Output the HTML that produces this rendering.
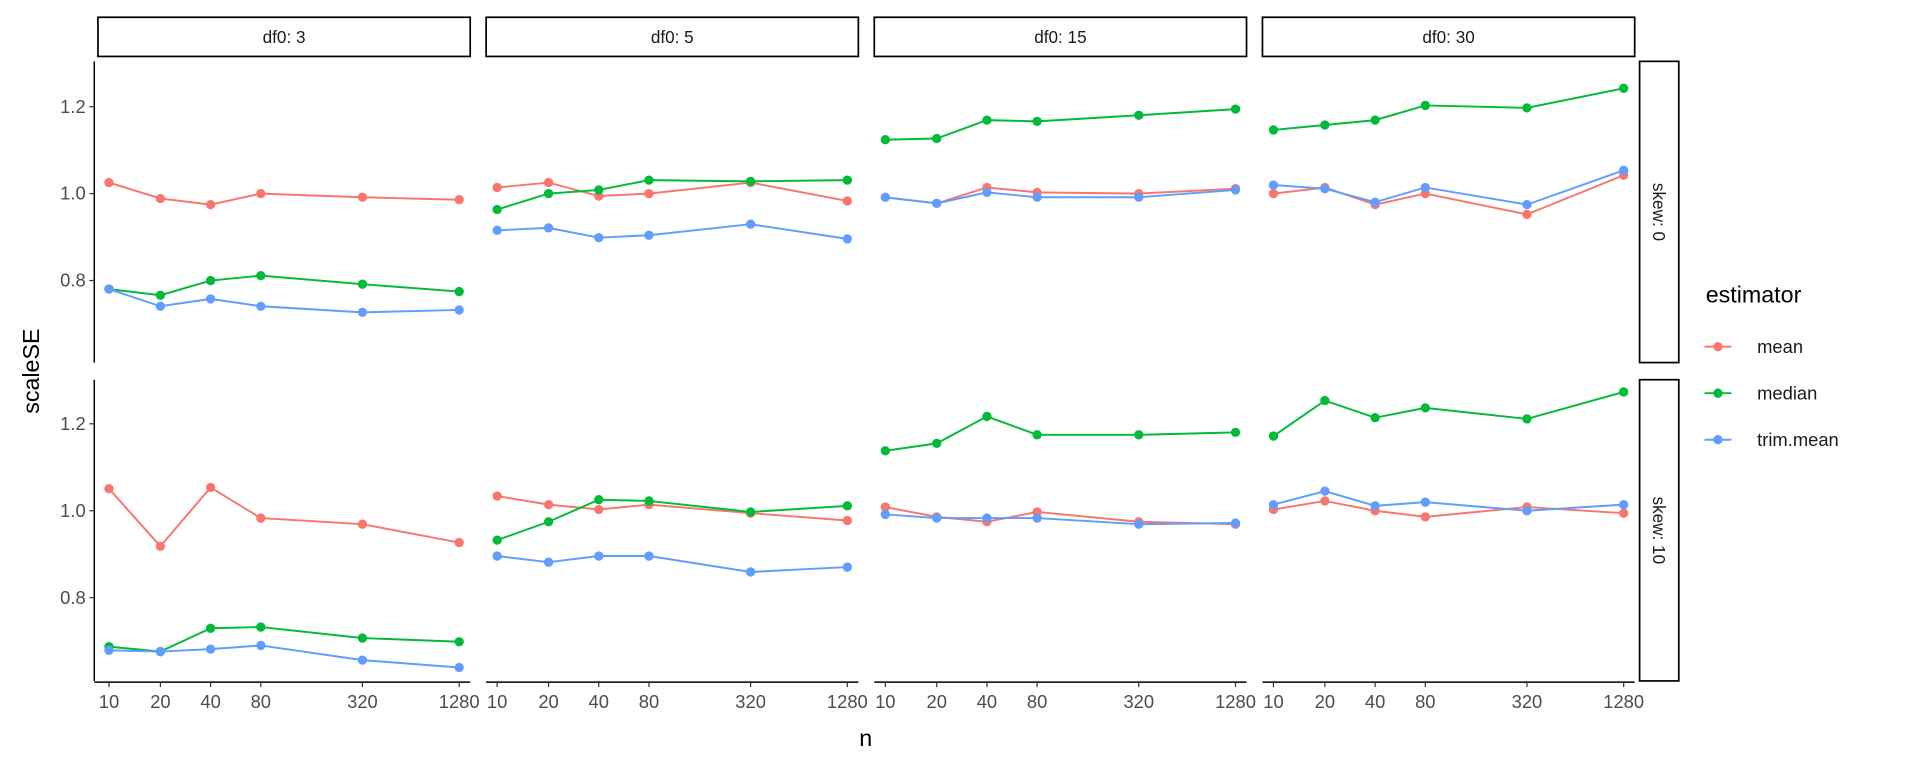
<!DOCTYPE html>
<html><head><meta charset="utf-8"><style>html,body{margin:0;padding:0;background:#fff}svg{display:block}</style></head><body>
<svg width="1920" height="768" viewBox="0 0 1568 627" xmlns="http://www.w3.org/2000/svg" font-family="Liberation Sans, sans-serif">
<defs>
<marker id="mm" markerUnits="userSpaceOnUse" markerWidth="10" markerHeight="10" refX="5" refY="5" viewBox="0 0 10 10"><circle cx="5" cy="5" r="3.8" fill="#F8766D"/></marker>
<marker id="md" markerUnits="userSpaceOnUse" markerWidth="10" markerHeight="10" refX="5" refY="5" viewBox="0 0 10 10"><circle cx="5" cy="5" r="3.8" fill="#00BA38"/></marker>
<marker id="mt" markerUnits="userSpaceOnUse" markerWidth="10" markerHeight="10" refX="5" refY="5" viewBox="0 0 10 10"><circle cx="5" cy="5" r="3.8" fill="#619CFF"/></marker>
</defs>
<rect width="1568" height="627" fill="#fff"/>
<g fill="#fff" stroke="#000" stroke-width="1.4">
<rect x="80" y="14" width="304" height="32"/><rect x="397" y="14" width="304" height="32"/>
<rect x="714" y="14" width="304" height="32"/><rect x="1031" y="14" width="304" height="32"/>
<rect x="1339" y="50" width="32" height="246"/><rect x="1339" y="310" width="32" height="246"/>
</g>
<g font-size="14" fill="#1a1a1a" text-anchor="middle">
<text x="232" y="35">df0: 3</text><text x="549" y="35">df0: 5</text>
<text x="866" y="35">df0: 15</text><text x="1183" y="35">df0: 30</text>
<text transform="translate(1350,173) rotate(90)">skew: 0</text>
<text transform="translate(1350,433) rotate(90)">skew: 10</text>
</g>
<g stroke="#000" stroke-width="1.2">
<line x1="77" y1="50" x2="77" y2="296"/><line x1="77" y1="310" x2="77" y2="556"/>
<line x1="77" y1="557" x2="384" y2="557"/><line x1="397" y1="557" x2="701" y2="557"/>
<line x1="714" y1="557" x2="1018" y2="557"/><line x1="1031" y1="557" x2="1335" y2="557"/>
</g>
<g stroke="#333" stroke-width="1">
<line x1="73" y1="87" x2="77" y2="87"/><line x1="73" y1="158" x2="77" y2="158"/><line x1="73" y1="229" x2="77" y2="229"/>
<line x1="73" y1="346" x2="77" y2="346"/><line x1="73" y1="417" x2="77" y2="417"/><line x1="73" y1="488" x2="77" y2="488"/>
</g>
<g font-size="15" fill="#4d4d4d" text-anchor="end">
<text x="70" y="92">1.2</text><text x="70" y="163">1.0</text><text x="70" y="234">0.8</text>
<text x="70" y="351">1.2</text><text x="70" y="422">1.0</text><text x="70" y="493">0.8</text>
</g>
<g id="xt">
<g stroke="#333" stroke-width="1"><line x1="89" y1="557" x2="89" y2="561"/><line x1="131" y1="557" x2="131" y2="561"/><line x1="172" y1="557" x2="172" y2="561"/><line x1="213" y1="557" x2="213" y2="561"/><line x1="296" y1="557" x2="296" y2="561"/><line x1="375" y1="557" x2="375" y2="561"/></g>
<g font-size="15" fill="#4d4d4d" text-anchor="middle"><text x="89" y="578">10</text><text x="131" y="578">20</text><text x="172" y="578">40</text><text x="213" y="578">80</text><text x="296" y="578">320</text><text x="375" y="578">1280</text></g>
</g>
<use href="#xt" x="317"/><use href="#xt" x="634"/><use href="#xt" x="951"/>
<text x="707" y="609" font-size="19" fill="#000" text-anchor="middle">n</text>
<text transform="translate(32,303) rotate(-90)" font-size="19" fill="#000" text-anchor="middle">scaleSE</text>

<g fill="none" stroke-width="1.6">
<g stroke="#F8766D" marker-start="url(#mm)" marker-mid="url(#mm)" marker-end="url(#mm)">
<polyline points="89,149 131,162 172,167 213,158 296,161 375,163"/>
<polyline points="406,153 448,149 489,160 530,158 613,149 692,164"/>
<polyline points="723,161 765,166 806,153 847,157 930,158 1009,154"/>
<polyline points="1040,158 1082,153 1123,167 1164,158 1247,175 1326,143"/>
<polyline points="89,399 131,446 172,398 213,423 296,428 375,443"/>
<polyline points="406,405 448,412 489,416 530,412 613,419 692,425"/>
<polyline points="723,414 765,422 806,426 847,418 930,426 1009,428"/>
<polyline points="1040,416 1082,409 1123,417 1164,422 1247,414 1326,419"/>
</g>
<g stroke="#00BA38" marker-start="url(#md)" marker-mid="url(#md)" marker-end="url(#md)">
<polyline points="89,236 131,241 172,229 213,225 296,232 375,238"/>
<polyline points="406,171 448,158 489,155 530,147 613,148 692,147"/>
<polyline points="723,114 765,113 806,98 847,99 930,94 1009,89"/>
<polyline points="1040,106 1082,102 1123,98 1164,86 1247,88 1326,72"/>
<polyline points="89,528 131,532 172,513 213,512 296,521 375,524"/>
<polyline points="406,441 448,426 489,408 530,409 613,418 692,413"/>
<polyline points="723,368 765,362 806,340 847,355 930,355 1009,353"/>
<polyline points="1040,356 1082,327 1123,341 1164,333 1247,342 1326,320"/>
</g>
<g stroke="#619CFF" marker-start="url(#mt)" marker-mid="url(#mt)" marker-end="url(#mt)">
<polyline points="89,236 131,250 172,244 213,250 296,255 375,253"/>
<polyline points="406,188 448,186 489,194 530,192 613,183 692,195"/>
<polyline points="723,161 765,166 806,157 847,161 930,161 1009,155"/>
<polyline points="1040,151 1082,154 1123,165 1164,153 1247,167 1326,139"/>
<polyline points="89,531 131,532 172,530 213,527 296,539 375,545"/>
<polyline points="406,454 448,459 489,454 530,454 613,467 692,463"/>
<polyline points="723,420 765,423 806,423 847,423 930,428 1009,427"/>
<polyline points="1040,412 1082,401 1123,413 1164,410 1247,417 1326,412"/>
</g>
</g>

<text x="1393" y="247" font-size="19" fill="#000">estimator</text>
<g stroke-width="1.6">
<line x1="1392" y1="283" x2="1414" y2="283" stroke="#F8766D"/><circle cx="1403" cy="283" r="3.8" fill="#F8766D"/>
<line x1="1392" y1="321" x2="1414" y2="321" stroke="#00BA38"/><circle cx="1403" cy="321" r="3.8" fill="#00BA38"/>
<line x1="1392" y1="359" x2="1414" y2="359" stroke="#619CFF"/><circle cx="1403" cy="359" r="3.8" fill="#619CFF"/>
</g>
<g font-size="15" fill="#1a1a1a"><text x="1435" y="288">mean</text><text x="1435" y="326">median</text><text x="1435" y="364">trim.mean</text></g>
</svg>
</body></html>
